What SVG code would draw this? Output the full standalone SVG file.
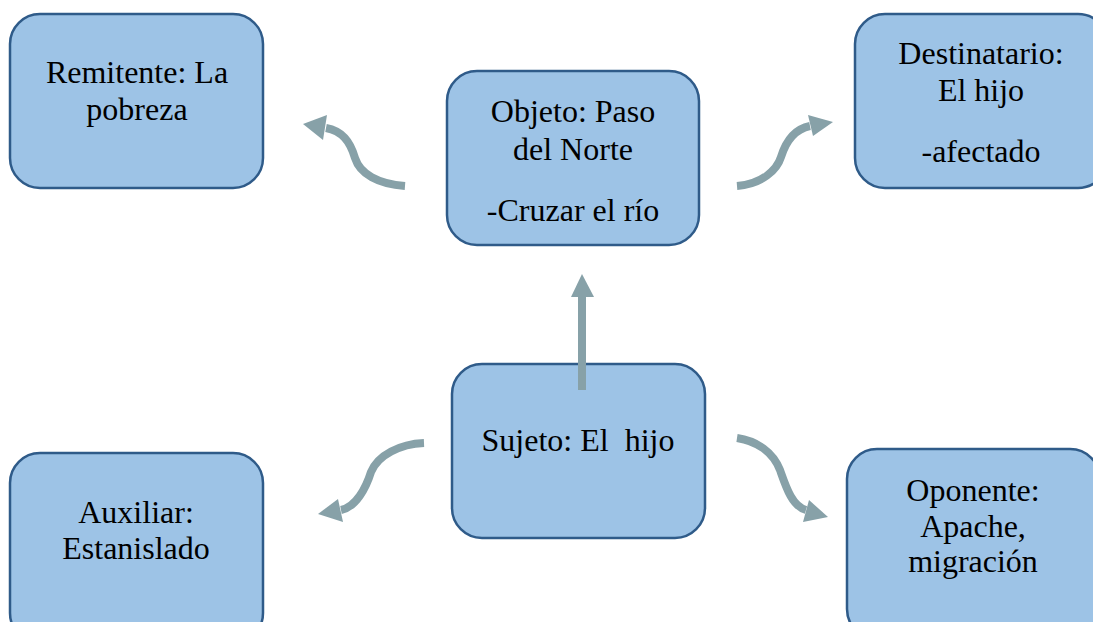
<svg xmlns="http://www.w3.org/2000/svg" width="1093" height="622" viewBox="0 0 1093 622">
<style>
.box{fill:#9dc3e6;stroke:#2f5b89;stroke-width:2.5}
.t{font-family:"Liberation Serif","Times New Roman",serif;font-size:32px;fill:#000;text-anchor:middle}
.arr{fill:none;stroke:#87a1a8;stroke-width:8}
.head{fill:#87a1a8}
</style>
<rect width="1093" height="622" fill="#fff"/>
<g id="remitente">
<rect class="box" x="10" y="14" width="253" height="174" rx="30"/>
<text class="t" x="137" y="83">Remitente: La</text>
<text class="t" x="137" y="120">pobreza</text>
</g>
<g id="objeto">
<rect class="box" x="447" y="71" width="252" height="174" rx="30"/>
<text class="t" x="573" y="122">Objeto: Paso</text>
<text class="t" x="573" y="160">del Norte</text>
<text class="t" x="573" y="221">-Cruzar el río</text>
</g>
<g id="destinatario">
<rect class="box" x="855" y="14" width="253" height="174" rx="30"/>
<text class="t" x="981" y="64">Destinatario:</text>
<text class="t" x="981" y="101">El hijo</text>
<text class="t" x="981" y="162">-afectado</text>
</g>
<g id="sujeto">
<rect class="box" x="452" y="364" width="253" height="174" rx="30"/>
<text class="t" x="578" y="451" xml:space="preserve">Sujeto: El  hijo</text>
</g>
<g id="auxiliar">
<rect class="box" x="10" y="453" width="253" height="190" rx="30"/>
<text class="t" x="136" y="523">Auxiliar:</text>
<text class="t" x="136" y="559">Estanislado</text>
</g>
<g id="oponente">
<rect class="box" x="847" y="449" width="253" height="190" rx="30"/>
<text class="t" x="973" y="501">Oponente:</text>
<text class="t" x="973" y="537">Apache,</text>
<text class="t" x="973" y="572">migración</text>
</g>
<g id="connectors">
<path class="arr" d="M405,186 C378,184 360,174 355,158 C350,141 342,131 326,128"/>
<polygon class="head" points="303,124 327,115 323,140"/>
<path class="arr" d="M737,186 C762,184 777,170 781,157 C786,141 795,129 810,126"/>
<polygon class="head" points="833,122 808,115 813,136"/>
<path class="arr" d="M424,443 C400,444 378,455 371,472 C366,488 356,507 341,510"/>
<polygon class="head" points="318,514 338,499 343,522"/>
<path class="arr" d="M737,438 C757,441 773,452 780,470 C786,487 792,506 806,510"/>
<polygon class="head" points="828,517 809,500 803,522"/>
<path class="arr" d="M582,390 L582,296"/>
<polygon class="head" points="582,274 571,297 594,297"/>
</g>
</svg>
